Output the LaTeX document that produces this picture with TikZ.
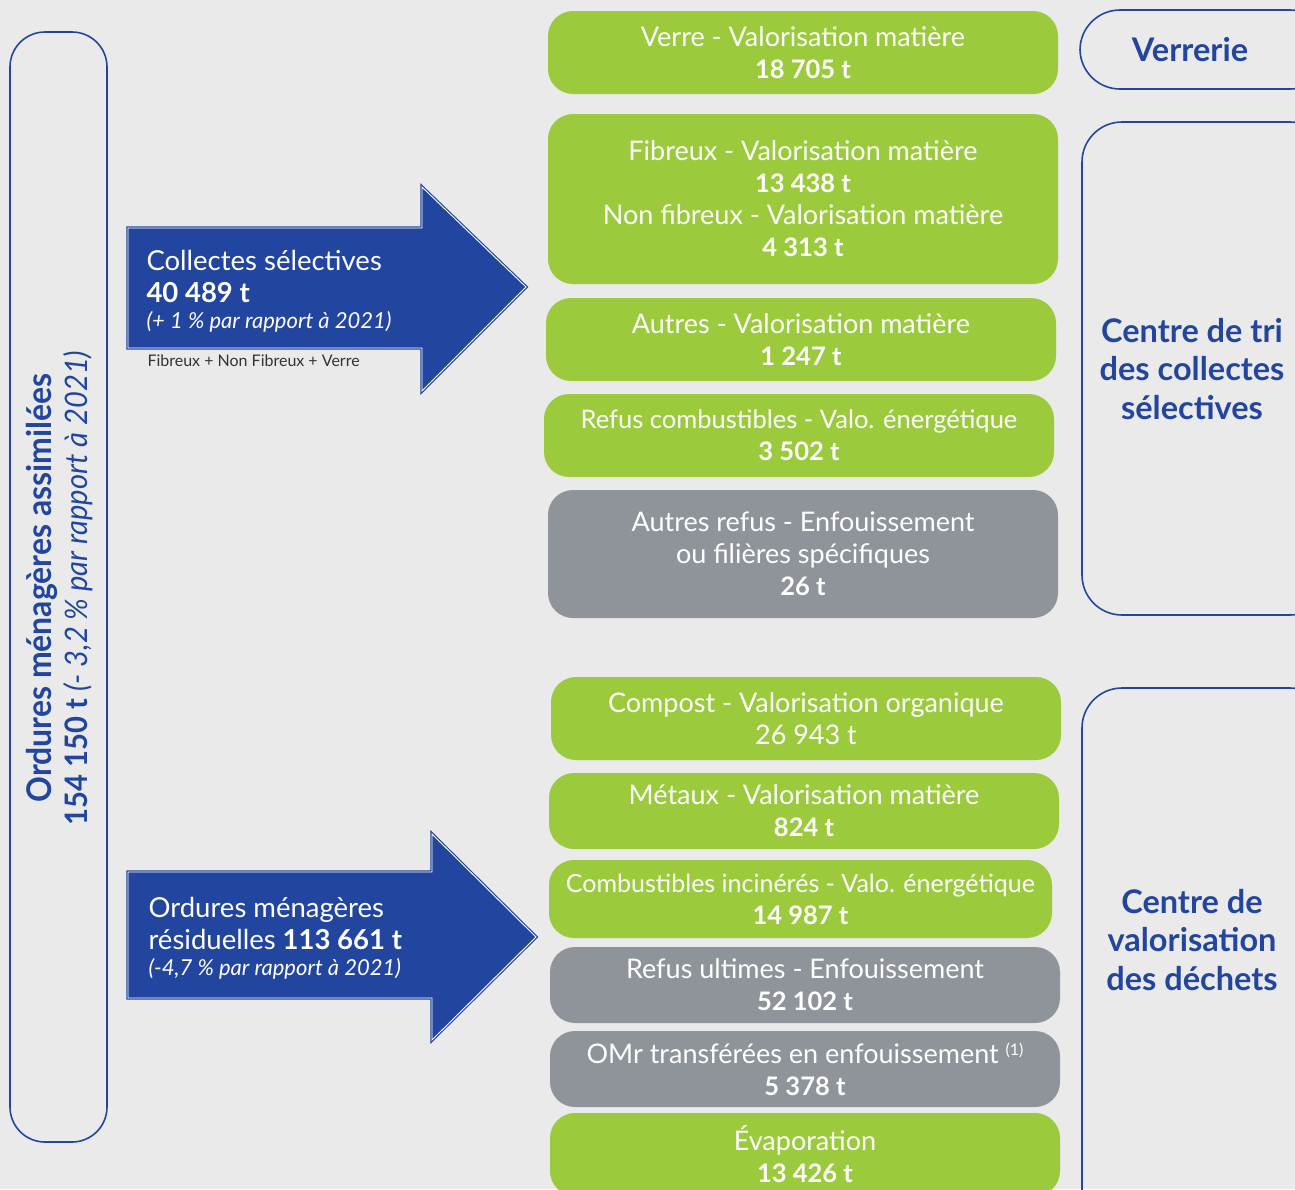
\documentclass[tikz,border=0pt]{standalone}
\usepackage{fontspec}
\setmainfont{Lato}
\newfontfamily\narrowfont[FakeStretch=0.94]{Lato}
\definecolor{bgGray}{HTML}{EAEAEA}
\definecolor{leafGreen}{HTML}{9BCB3C}
\definecolor{slateGray}{HTML}{8F949A}
\definecolor{navy}{HTML}{22469F}
\definecolor{noteGray}{HTML}{333333}
\newcommand{\tonnage}[1]{{\fontsize{25.5}{32}\selectfont\bfseries #1}}

\begin{document}
\begin{tikzpicture}[x=1pt,y=-1pt,
    greenbox/.style={fill=leafGreen,rounded corners=25,inner sep=0pt,text=white,align=center,font=\fontsize{27}{32}\selectfont},
    graybox/.style={greenbox,fill=slateGray},
    sitebox/.style={draw=navy,line width=1.6,rounded corners=40},
    sitetext/.style={text=navy,align=center,font=\fontsize{32.5}{38.5}\selectfont\bfseries},
    flowarrow/.style={fill=navy,draw=navy,double=white,double distance=0.9,line width=1.2},
    arrowtext/.style={text=white,align=left,anchor=west,font=\fontsize{27.5}{32}\selectfont}]
        \fill[bgGray] (0,0) rectangle (1295,1189);
        \useasboundingbox (0,0) rectangle (1295,1189);
        \clip (0,0) rectangle (1295,1189);

        % colonne de gauche
        \node[draw=navy,line width=1.6,rounded corners=35,minimum width=97,minimum height=1110] (oma) at (58.5,587) {};
        \node[rotate=90,text=navy,align=center,font=\narrowfont\fontsize{34}{36}\selectfont] (omatext) at (60,588)
            {\bfseries Ordures ménagères assimilées\\
             {\fontsize{31}{36}\selectfont\bfseries 154 150 t {\mdseries\itshape (- 3,2 \% par rapport à 2021)}}};

        % fleches
        \path[flowarrow] (128,228) -- (422,228) -- (422,187) -- (526,287) -- (422,391) -- (422,348) -- (128,348) -- cycle;
        \node[arrowtext] (collectes) at (143,291)
            {Collectes sélectives\\ \textbf{40 489 t}\\[-6pt]{\fontsize{22}{26}\selectfont\itshape (+ 1 \% par rapport à 2021)}};
        \node[anchor=west,text=noteGray,font=\fontsize{16}{18}\selectfont] (detail) at (144,361) {Fibreux + Non Fibreux + Verre};

        \path[flowarrow] (128,872) -- (432,872) -- (432,834) -- (536,937) -- (432,1040) -- (432,998) -- (128,998) -- cycle;
        \node[arrowtext] (omr) at (145,938)
            {Ordures ménagères\\ résiduelles \textbf{113 661 t}\\[-6pt]{\fontsize{22}{26}\selectfont\itshape (-4,7 \% par rapport à 2021)}};

        % centre de tri
        \node[greenbox,minimum width=510,minimum height=83] (verre) at (803,52.5)
            {Verre - Valorisation matière\\ \tonnage{18 705 t}};
        \node[greenbox,minimum width=510,minimum height=170] (fibreux) at (803,199)
            {Fibreux - Valorisation matière\\ \tonnage{13 438 t}\\ Non fibreux - Valorisation matière\\ \tonnage{4 313 t}};
        \node[greenbox,minimum width=510,minimum height=83] (autres) at (801,339.5)
            {Autres - Valorisation matière\\ \tonnage{1 247 t}};
        \node[greenbox,minimum width=510,minimum height=83] (refuscomb) at (799,435.5)
            {{\fontsize{25.5}{32}\selectfont Refus combustibles - Valo. énergétique}\\ \tonnage{3 502 t}};
        \node[graybox,minimum width=510,minimum height=128] (autresrefus) at (803,554)
            {Autres refus - Enfouissement\\ ou filières spécifiques\\ \tonnage{26 t}};

        % centre de valorisation
        \node[greenbox,minimum width=510,minimum height=83] (compost) at (806,718.5)
            {Compost - Valorisation organique\\ 26 943 t};
        \node[greenbox,minimum width=510,minimum height=76] (metaux) at (804,811)
            {Métaux - Valorisation matière\\ \tonnage{824 t}};
        \node[greenbox,minimum width=503,minimum height=78] (incineres) at (800.5,899)
            {{\fontsize{25}{32}\selectfont Combustibles incinérés - Valo. énergétique}\\ \tonnage{14 987 t}};
        \node[graybox,minimum width=510,minimum height=76] (ultimes) at (805,985)
            {Refus ultimes - Enfouissement\\ \tonnage{52 102 t}};
        \node[graybox,minimum width=510,minimum height=76] (transferees) at (805,1069)
            {OMr transférées en enfouissement {\fontsize{16}{16}\selectfont\raisebox{8pt}{(1)}}\\ \tonnage{5 378 t}};
        \node[greenbox,minimum width=510,minimum height=83] (evaporation) at (805,1154.5)
            {Évaporation\\ \tonnage{13 426 t}};

        % sites
        \draw[sitebox] (1080,10) rectangle (1330,89);
        \node[sitetext] (verrerie) at (1190,50) {Verrerie};
        \draw[sitebox] (1082,122) rectangle (1330,615);
        \node[sitetext] (tri) at (1192,369) {Centre de tri\\ des collectes\\ sélectives};
        \draw[sitebox] (1082,688) rectangle (1330,1230);
        \node[sitetext] (valorisation) at (1192,940) {Centre de\\ valorisation\\ des déchets};
\end{tikzpicture}
\end{document}
